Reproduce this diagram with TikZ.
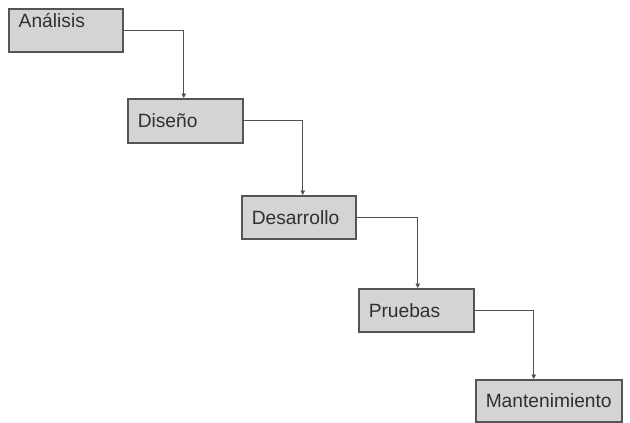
\documentclass[tikz,border=0pt]{standalone}
\usepackage{fontspec}
\setmainfont{Liberation Sans}
\usetikzlibrary{arrows.meta}
\definecolor{boxfill}{HTML}{D4D4D4}
\definecolor{boxline}{HTML}{555555}
\definecolor{txt}{HTML}{303030}
\definecolor{conncol}{HTML}{505050}
\begin{document}
\begin{tikzpicture}[x=1pt,y=1pt,
  box/.style={draw=boxline, line width=1.5pt, fill=boxfill, anchor=north west,
    inner xsep=10pt, inner ysep=2pt, align=left, text=txt,
    font=\fontsize{19.2}{21}\selectfont},
  conn/.style={draw=conncol, line width=0.8pt, -{Triangle[width=4.5pt,length=4.5pt]}}]
\useasboundingbox (0,0) rectangle (630,-423);
\node[box, minimum width=114pt, minimum height=43pt, text width=94pt, text depth=20pt] (a1) at (8,-8) {Análisis};
\node[box, minimum width=115pt, minimum height=44pt, text width=95pt] (a2) at (127,-98) {Diseño};
\node[box, minimum width=114pt, minimum height=43pt, text width=94pt] (a3) at (241,-195) {Desarrollo};
\node[box, minimum width=115pt, minimum height=43pt, text width=95pt] (a4) at (358,-288) {Pruebas};
\node[box, minimum width=146pt, minimum height=42pt, text width=126pt] (a5) at (475,-379) {Mantenimiento};
\draw[conn] (a1.east) -| ([xshift=-1.5pt]a2.north);
\draw[conn] (a2.east) -| ([xshift=4pt]a3.north);
\draw[conn] (a3.east) -| ([xshift=1.5pt]a4.north);
\draw[conn] (a4.east) -| ([xshift=-15pt]a5.north);
\end{tikzpicture}
\end{document}
